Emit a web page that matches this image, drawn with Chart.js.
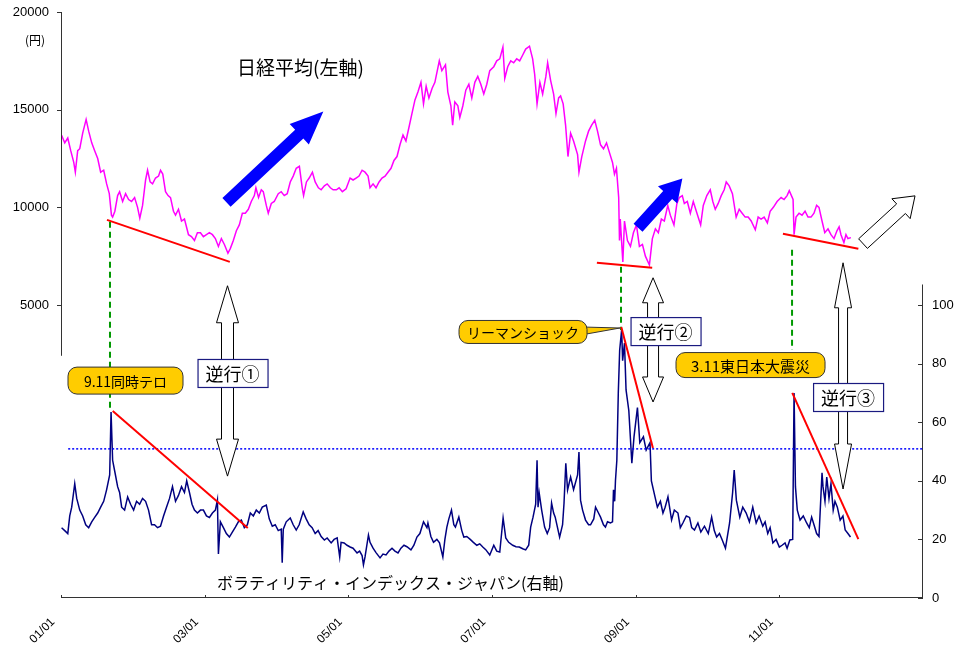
<!DOCTYPE html>
<html>
<head>
<meta charset="utf-8">
<script src="https://cdn.jsdelivr.net/npm/chart.js"></script>
<style>
  html, body { margin: 0; padding: 0; background: #fff; }
  canvas { display: block; }
</style>
</head>
<body>
<canvas id="chart" width="968" height="645"></canvas>
<script>
// 日経平均 (left axis, yen), roughly twice a month
const nikkeiDates = [
  '2001-01-04','2001-01-20','2001-02-05','2001-02-20','2001-03-05','2001-03-13','2001-03-25','2001-04-05','2001-04-20','2001-05-07','2001-05-20','2001-06-05','2001-06-20','2001-07-05','2001-07-20','2001-08-05','2001-08-20','2001-09-03','2001-09-14','2001-09-20','2001-10-01','2001-10-15','2001-10-25','2001-11-10','2001-11-25','2001-12-10','2001-12-25',
  '2002-01-10','2002-01-25','2002-02-06','2002-02-20','2002-03-05','2002-03-15','2002-03-28','2002-04-10','2002-04-25','2002-05-10','2002-05-20','2002-06-01','2002-06-15','2002-06-28','2002-07-10','2002-07-25','2002-08-05','2002-08-20','2002-09-05','2002-09-20','2002-10-10','2002-10-25','2002-11-10','2002-11-25','2002-12-10','2002-12-25',
  '2003-01-10','2003-01-25','2003-02-10','2003-02-25','2003-03-10','2003-03-25','2003-04-10','2003-04-28','2003-05-10','2003-05-25','2003-06-10','2003-06-25','2003-07-10','2003-07-25','2003-08-10','2003-08-25','2003-09-10','2003-09-18','2003-10-01','2003-10-15','2003-10-25','2003-11-10','2003-11-20','2003-12-05','2003-12-20',
  '2004-01-10','2004-01-25','2004-02-10','2004-02-25','2004-03-10','2004-03-25','2004-04-10','2004-04-26','2004-05-10','2004-05-17','2004-06-01','2004-06-15','2004-07-01','2004-07-15','2004-08-01','2004-08-15','2004-09-01','2004-09-15','2004-10-01','2004-10-15','2004-11-01','2004-11-15','2004-12-01','2004-12-20',
  '2005-01-10','2005-01-25','2005-02-10','2005-02-25','2005-03-10','2005-03-25','2005-04-10','2005-04-20','2005-05-05','2005-05-20','2005-06-05','2005-06-20','2005-07-05','2005-07-20','2005-08-05','2005-08-20','2005-09-05','2005-09-20','2005-10-05','2005-10-20','2005-11-05','2005-11-20','2005-12-05','2005-12-20',
  '2006-01-05','2006-01-18','2006-02-01','2006-02-15','2006-03-01','2006-03-15','2006-04-07','2006-04-20','2006-05-08','2006-05-20','2006-06-05','2006-06-14','2006-06-25','2006-07-10','2006-07-20','2006-08-05','2006-08-20','2006-09-05','2006-09-20','2006-10-05','2006-10-20','2006-11-05','2006-11-20','2006-12-05','2006-12-20',
  '2007-01-10','2007-01-25','2007-02-10','2007-02-26','2007-03-05','2007-03-20','2007-04-05','2007-04-20','2007-05-05','2007-05-20','2007-06-05','2007-06-20','2007-07-09','2007-07-25','2007-08-05','2007-08-17','2007-09-01','2007-09-15','2007-10-01','2007-10-10','2007-10-25','2007-11-10','2007-11-22','2007-12-05','2007-12-15','2007-12-28',
  '2008-01-10','2008-01-22','2008-02-05','2008-02-20','2008-03-10','2008-03-17','2008-04-01','2008-04-20','2008-05-05','2008-05-20','2008-06-06','2008-06-20','2008-07-05','2008-07-20','2008-08-05','2008-08-20','2008-09-05','2008-09-15','2008-09-25','2008-10-06','2008-10-10','2008-10-14','2008-10-27','2008-11-05','2008-11-20','2008-12-05','2008-12-20',
  '2009-01-05','2009-01-20','2009-02-05','2009-02-20','2009-03-10','2009-03-25','2009-04-10','2009-04-25','2009-05-10','2009-05-25','2009-06-12','2009-06-25','2009-07-13','2009-07-28','2009-08-10','2009-08-25','2009-09-05','2009-09-20','2009-10-05','2009-10-20','2009-11-05','2009-11-27','2009-12-10','2009-12-28',
  '2010-01-15','2010-01-28','2010-02-10','2010-02-25','2010-03-10','2010-03-25','2010-04-05','2010-04-20','2010-05-06','2010-05-25','2010-06-10','2010-06-25','2010-07-10','2010-07-25','2010-08-10','2010-08-31','2010-09-15','2010-09-30','2010-10-15','2010-11-01','2010-11-15','2010-12-01','2010-12-20',
  '2011-01-10','2011-01-25','2011-02-10','2011-02-21','2011-03-10','2011-03-15','2011-03-25','2011-04-10','2011-04-25','2011-05-10','2011-05-25','2011-06-10','2011-06-25','2011-07-08','2011-07-20','2011-08-05','2011-08-19','2011-09-05','2011-09-20','2011-10-05','2011-10-20','2011-10-31','2011-11-10','2011-11-25','2011-12-05','2011-12-15','2011-12-30'
];
const nikkeiValues = [
  13690,13300,13550,12900,12300,11800,12900,13000,13800,14500,13900,13300,12900,12500,11800,11900,11200,10700,9600,9500,9800,10600,10800,10300,10700,10400,10300,
  10500,10000,9450,10100,11400,11900,11300,11200,11500,11600,11900,11700,10800,10600,10500,9800,9600,9900,9300,9400,8600,8500,8300,8700,8700,8500,
  8600,8700,8600,8400,8000,8400,8100,7650,7900,8300,8800,9100,9700,9700,9900,10300,10600,11000,10500,10900,10800,10100,9700,10200,10300,
  10700,10800,10600,10700,11300,11600,12000,12100,11000,10600,11300,11500,11800,11300,11000,10900,11100,11200,11000,10900,10900,11000,10800,10950,
  11500,11400,11500,11600,11900,11800,11600,11000,11200,11000,11300,11500,11600,11800,12000,12400,12600,13200,13700,13400,14100,14800,15500,15900,
  16400,15300,16200,15600,16100,16400,17500,17000,17300,15900,15200,14200,15400,15200,14600,15200,16000,16300,15600,16400,16700,16300,15800,16300,17000,
  17200,17500,17600,18200,16600,17200,17500,17400,17600,17500,17800,18100,18250,17600,16800,15300,16400,15800,16700,17400,16500,15800,14800,15600,15700,15300,
  14200,12600,13800,13400,12700,11800,12600,13400,13900,14200,14450,13900,13200,13000,13300,12800,12300,11700,12000,10500,8300,9400,7200,9300,8300,8000,8700,
  9100,8000,8100,7500,7050,8400,8900,8700,9400,9300,10100,9600,9100,10200,10500,10600,10200,10300,9700,10300,9800,9100,10100,10600,
  10900,10300,9900,10200,10600,10900,11300,11100,10700,9500,9900,9700,9500,9500,9300,8850,9500,9400,9500,9200,9800,10000,10300,
  10500,10400,10600,10850,10400,8600,9500,9700,9600,9800,9500,9500,9700,10100,10000,9300,8700,8900,8600,8400,8800,9000,8600,8200,8600,8400,8450
];

// ボラティリティ・インデックス・ジャパン (right axis)
const vxjDates = [
  '2001-01-04','2001-01-20','2001-02-05','2001-02-15','2001-02-25','2001-03-10','2001-03-20','2001-04-05','2001-04-20','2001-05-05','2001-05-20','2001-06-05','2001-06-20','2001-07-05','2001-07-20','2001-08-05','2001-08-20','2001-09-05','2001-09-12','2001-09-20','2001-10-01','2001-10-15','2001-10-25','2001-11-05','2001-11-20','2001-12-05','2001-12-20',
  '2002-01-05','2002-01-20','2002-02-05','2002-02-20','2002-03-05','2002-03-20','2002-04-05','2002-04-20','2002-05-05','2002-05-20','2002-06-05','2002-06-20','2002-07-05','2002-07-20','2002-08-05','2002-08-20','2002-09-05','2002-09-20','2002-10-01','2002-10-15','2002-10-28','2002-11-10','2002-11-25','2002-12-10','2002-12-25',
  '2003-01-10','2003-01-25','2003-02-10','2003-02-25','2003-03-05','2003-03-10','2003-03-20','2003-04-05','2003-04-20','2003-05-05','2003-05-20','2003-06-05','2003-06-20','2003-07-05','2003-07-20','2003-08-05','2003-08-20','2003-09-05','2003-09-20','2003-10-05','2003-10-20','2003-11-10','2003-11-25','2003-12-10','2003-12-25',
  '2004-01-10','2004-01-25','2004-01-30','2004-02-05','2004-02-20','2004-03-10','2004-03-25','2004-04-10','2004-04-25','2004-05-15','2004-05-30','2004-06-15','2004-06-30','2004-07-15','2004-07-30','2004-08-15','2004-09-01','2004-09-15','2004-10-05','2004-10-20','2004-11-05','2004-11-18','2004-11-25','2004-12-10','2004-12-25',
  '2005-01-10','2005-01-25','2005-02-15','2005-02-28','2005-03-10','2005-03-17','2005-03-25','2005-04-12','2005-04-20','2005-05-05','2005-05-20','2005-06-10','2005-06-25','2005-07-10','2005-07-25','2005-08-10','2005-08-25','2005-09-10','2005-09-25','2005-10-10','2005-10-25','2005-11-15','2005-11-30','2005-12-15','2005-12-30',
  '2006-01-18','2006-02-05','2006-02-10','2006-02-25','2006-03-08','2006-03-25','2006-04-08','2006-04-25','2006-05-05','2006-05-15','2006-05-25','2006-06-08','2006-06-20','2006-06-28','2006-07-15','2006-07-30','2006-08-10','2006-08-25','2006-09-12','2006-09-28','2006-10-15','2006-10-30','2006-11-15','2006-11-30','2006-12-20',
  '2007-01-10','2007-01-25','2007-02-10','2007-02-27','2007-03-10','2007-03-25','2007-04-15','2007-05-01','2007-05-18','2007-06-05','2007-06-20','2007-07-05','2007-07-15','2007-07-27','2007-08-10','2007-08-17','2007-08-22','2007-08-28','2007-09-10','2007-09-25','2007-10-08','2007-10-20','2007-10-30','2007-11-10','2007-11-18','2007-12-10','2007-12-25',
  '2008-01-02','2008-01-11','2008-01-20','2008-02-05','2008-02-20','2008-03-10','2008-03-17','2008-03-25','2008-04-05','2008-04-20','2008-05-05','2008-05-15','2008-06-01','2008-06-10','2008-06-25','2008-07-05','2008-07-20','2008-07-30','2008-08-10','2008-08-25','2008-09-05','2008-09-10','2008-09-16','2008-09-20','2008-09-27','2008-10-04','2008-10-11','2008-10-21','2008-10-26','2008-11-05','2008-11-13','2008-11-27','2008-12-12','2008-12-23',
  '2009-01-10','2009-01-22','2009-02-10','2009-02-24','2009-03-13','2009-03-20','2009-04-08','2009-04-20','2009-05-05','2009-05-18','2009-05-29','2009-06-13','2009-07-01','2009-07-15','2009-08-03','2009-08-15','2009-08-28','2009-09-15','2009-10-01','2009-10-12','2009-10-26','2009-11-13','2009-11-28','2009-12-16',
  '2010-01-05','2010-01-22','2010-02-05','2010-02-17','2010-03-01','2010-03-15','2010-04-01','2010-04-22','2010-05-07','2010-05-15','2010-05-26','2010-06-13','2010-06-28','2010-07-15','2010-08-01','2010-08-18','2010-09-05','2010-09-20','2010-10-08','2010-10-20','2010-11-03','2010-11-15','2010-11-29','2010-12-15',
  '2011-01-01','2011-01-15','2011-01-30','2011-02-10','2011-02-24','2011-03-08','2011-03-15','2011-03-22','2011-04-01','2011-04-15','2011-05-01','2011-05-18','2011-06-01','2011-06-13','2011-06-25','2011-07-08','2011-07-20','2011-08-05','2011-08-10','2011-08-20','2011-08-29','2011-09-10','2011-09-20','2011-10-01','2011-10-10','2011-10-22','2011-11-06','2011-11-20','2011-12-01','2011-12-15','2011-12-28'
];
const vxjValues = [
  24,23,22,28,31,39,34,30,28,25,24,26,27.5,29,31,33,37,42,63.5,47,43,38,36,31,30,34.5,32,
  30,33,32,34,33,30,25,25,24,24.5,28,31,34,38,33,35,38,36,40,36,32,30,29,30,30,
  28,27.5,29,30,33.5,15,26,24,22,20.8,22.5,24.2,26,26.6,24,25,29,28,30,29,31,31.7,27,24.5,25,
  23,23.5,12,23.5,26,27.3,25,23.2,25,29.4,27,25,24,22,23,21,19.8,20.5,18.8,20,20.5,14,19,18.8,18,
  17.4,17,15.4,16,14.5,11.3,14,21.5,19,17,15.5,13.7,15,14.7,16,17,16,15.4,17,18,17.5,16.4,18,20.8,22,
  26,24,25.6,21,19,20,18.8,14,20,24.2,27,30,25,24.2,27.6,23,20.8,21,20,19,18,18.5,17.4,16.5,14.7,
  18,16,15.7,27.3,20.5,19,18,17.5,17.4,16.8,16.4,18,24.2,27.6,32,47,31,35.8,30,24.2,22,24,32.4,29,27.6,20.8,25,
  32.4,46,36.9,41.3,37,42,49.8,33.4,30,26.6,25,25,27,31,29,27.6,25,24.2,26,25.6,26,36.9,33,40,47,70,84.6,91.5,81,87,71,64,46,55,
  65,53,55,50.5,53,40,34.5,31,33,29,31,34.5,26.6,30,29,24,25.6,28,27.5,24,23.2,25.6,22.5,24.5,
  22,27.6,23,20.8,22,19.8,17,25.6,36,43.7,33.4,27.6,31,29,26,31,25.6,28,24.5,26,22,24,18.8,20,
  17.4,18,18.8,17,19.8,20,70,38,30,26.6,28,25.6,24,27.6,25,22,21,42.7,38,33,41.3,34,39,30,33,31,26.6,28,23.2,22,20.8
];

const xTickYears = [2001, 2003, 2005, 2007, 2009, 2011];
const xTickLabels = ['01/01', '03/01', '05/01', '07/01', '09/01', '11/01'];
const leftTicks = [5000, 10000, 15000, 20000];
const rightTicks = [0, 20, 40, 60, 80, 100];

function toYear(s) {
  const [y, m, d] = s.split('-').map(Number);
  return y + (m - 1) / 12 + (d - 1) / 365;
}

// overlay drawings, in data units (x = year, y = yen on left axis, v = right axis)
const trendLines = [
  { axis: 'y', x1: 2001.64, y1: 9360, x2: 2003.35, y2: 7210 },
  { axis: 'y', x1: 2008.46, y1: 7160, x2: 2009.23, y2: 6905 },
  { axis: 'y', x1: 2011.05, y1: 8645, x2: 2012.10, y2: 7880 },
  { axis: 'y2', x1: 2001.72, y1: 63.8, x2: 2003.60, y2: 23.9 },
  { axis: 'y2', x1: 2008.80, y1: 92.5, x2: 2009.24, y2: 51.2 },
  { axis: 'y2', x1: 2011.18, y1: 70, x2: 2012.10, y2: 20.1 }
];
const eventLines = [
  { x: 2001.682, yen: 9258, v: 64.2 },
  { x: 2008.796, yen: 6956, v: 91.5 },
  { x: 2011.177, yen: 7826, v: 84.6 }
];
const vxjRefLevel = { v: 50.9, from: 2001.10, to: 2012.99 };
const trendArrows = [
  { x1: 2003.304, y1: 10256, x2: 2004.652, y2: 14900, shaft: 12, headW: 28, headL: 33, fill: '#0000ff', stroke: null },
  { x1: 2009.033, y1: 8951, x2: 2009.650, y2: 11473, shaft: 12, headW: 26, headL: 22, fill: '#0000ff', stroke: null },
  { x1: 2012.165, y1: 8143, x2: 2012.889, y2: 10588, shaft: 13, headW: 27, headL: 19, fill: '#ffffff', stroke: '#000' }
];
const doubleArrows = [
  { x: 2003.318, top: 5985, bottom: 41.6, shaft: 12, headW: 22, headL: 37 },
  { x: 2009.242, top: 6394, bottom: 66.9, shaft: 11, headW: 21, headL: 25 },
  { x: 2011.887, top: 7161, bottom: 37.2, shaft: 9, headW: 17, headL: 45 }
];
const gyakkouBoxes = [
  { text: '逆行①', x: 2003.388, v: 76.8 },
  { text: '逆行②', x: 2009.416, v: 91.1 },
  { text: '逆行③', x: 2011.957, v: 68.6 }
];
const eventCallouts = [
  { text: '9.11同時テロ', x: 2001.898, v: 74.2, w: 115, h: 27, size: 14 },
  { text: 'リーマンショック', x: 2007.432, v: 90.8, w: 128, h: 23, size: 14, tipX: 2008.782, tipV: 92.15 },
  { text: '3.11東日本大震災', x: 2010.599, v: 79.5, w: 149, h: 25, size: 15 }
];

const JP = '"Noto Sans CJK JP", "Noto Sans", sans-serif';
const LAT = '"Liberation Sans", Arial, sans-serif';

function arrowPath(ctx, x1, y1, x2, y2, shaft, headW, headL) {
  const dx = x2 - x1, dy = y2 - y1, len = Math.hypot(dx, dy);
  const ux = dx / len, uy = dy / len, nx = -uy, ny = ux;
  const bx = x2 - ux * headL, by = y2 - uy * headL;
  const s = shaft / 2, h = headW / 2;
  ctx.beginPath();
  ctx.moveTo(x1 + nx * s, y1 + ny * s);
  ctx.lineTo(bx + nx * s, by + ny * s);
  ctx.lineTo(bx + nx * h, by + ny * h);
  ctx.lineTo(x2, y2);
  ctx.lineTo(bx - nx * h, by - ny * h);
  ctx.lineTo(bx - nx * s, by - ny * s);
  ctx.lineTo(x1 - nx * s, y1 - ny * s);
  ctx.closePath();
}

// the vertical axes should not push the plot area down for their labels
function fitVertical(width) {
  return s => {
    s.width = width;
    s.paddingTop = 0;
    s.paddingBottom = 0;
    if (s._margins) { s._margins.top = 0; s._margins.bottom = 0; }
  };
}

const overlay = {
  id: 'overlay',
  afterDraw(chart) {
    const { ctx, chartArea } = chart;
    const sx = chart.scales.x, sl = chart.scales.y, sr = chart.scales.y2;
    const px = v => sx.getPixelForValue(v);
    const pl = v => sl.getPixelForValue(v);
    const pr = v => sr.getPixelForValue(v);
    ctx.save();

    // axis lines (partial, like the original)
    ctx.strokeStyle = '#333';
    ctx.lineWidth = 1;
    ctx.beginPath();
    ctx.moveTo(chartArea.left + 0.5, pl(20000));
    ctx.lineTo(chartArea.left + 0.5, pl(2400));
    ctx.moveTo(chartArea.right - 0.5, pr(0));
    ctx.lineTo(chartArea.right - 0.5, pr(107));
    ctx.moveTo(chartArea.left, chartArea.bottom - 0.5);
    ctx.lineTo(chartArea.right, chartArea.bottom - 0.5);
    leftTicks.forEach(t => { const y = Math.round(pl(t)) + 0.5; ctx.moveTo(chartArea.left - 4, y); ctx.lineTo(chartArea.left, y); });
    rightTicks.forEach(t => { const y = Math.round(pr(t)) + 0.5; ctx.moveTo(chartArea.right - 5, y); ctx.lineTo(chartArea.right, y); });
    xTickYears.forEach(t => { const x = Math.round(px(t)) + 0.5; ctx.moveTo(x, chartArea.bottom - 3); ctx.lineTo(x, chartArea.bottom); });
    ctx.stroke();

    // dotted reference level on the VXJ
    ctx.strokeStyle = '#0000ff';
    ctx.lineWidth = 1.5;
    ctx.setLineDash([2, 2]);
    ctx.beginPath();
    ctx.moveTo(px(vxjRefLevel.from), pr(vxjRefLevel.v));
    ctx.lineTo(px(vxjRefLevel.to), pr(vxjRefLevel.v));
    ctx.stroke();

    // green dashed event lines
    ctx.strokeStyle = '#009900';
    ctx.lineWidth = 2;
    ctx.setLineDash([6, 4]);
    eventLines.forEach(e => {
      ctx.beginPath();
      ctx.moveTo(px(e.x), pl(e.yen));
      ctx.lineTo(px(e.x), pr(e.v));
      ctx.stroke();
    });
    ctx.setLineDash([]);

    // red trend lines
    ctx.strokeStyle = '#ff0000';
    ctx.lineWidth = 2;
    trendLines.forEach(l => {
      const py = l.axis === 'y' ? pl : pr;
      ctx.beginPath();
      ctx.moveTo(px(l.x1), py(l.y1));
      ctx.lineTo(px(l.x2), py(l.y2));
      ctx.stroke();
    });

    // direction arrows
    trendArrows.forEach(a => {
      arrowPath(ctx, px(a.x1), pl(a.y1), px(a.x2), pl(a.y2), a.shaft, a.headW, a.headL);
      ctx.fillStyle = a.fill;
      ctx.fill();
      if (a.stroke) { ctx.strokeStyle = a.stroke; ctx.lineWidth = 1; ctx.stroke(); }
    });

    // double headed vertical arrows
    doubleArrows.forEach(a => {
      const x = px(a.x), yt = pl(a.top), yb = pr(a.bottom);
      const s = a.shaft / 2, h = a.headW / 2;
      ctx.beginPath();
      ctx.moveTo(x, yt);
      ctx.lineTo(x + h, yt + a.headL);
      ctx.lineTo(x + s, yt + a.headL);
      ctx.lineTo(x + s, yb - a.headL);
      ctx.lineTo(x + h, yb - a.headL);
      ctx.lineTo(x, yb);
      ctx.lineTo(x - h, yb - a.headL);
      ctx.lineTo(x - s, yb - a.headL);
      ctx.lineTo(x - s, yt + a.headL);
      ctx.lineTo(x - h, yt + a.headL);
      ctx.closePath();
      ctx.fillStyle = '#fff';
      ctx.fill();
      ctx.strokeStyle = '#000';
      ctx.lineWidth = 1;
      ctx.stroke();
    });

    // 逆行 boxes
    ctx.font = '18px ' + JP;
    ctx.textAlign = 'center';
    ctx.textBaseline = 'middle';
    gyakkouBoxes.forEach(b => {
      const x = px(b.x), y = pr(b.v);
      const w = ctx.measureText(b.text).width + 16, h = 28;
      ctx.fillStyle = '#fff';
      ctx.fillRect(x - w / 2, y - h / 2, w, h);
      ctx.strokeStyle = '#1a1a80';
      ctx.lineWidth = 1.2;
      ctx.strokeRect(x - w / 2 + 0.5, y - h / 2 + 0.5, w, h);
      ctx.fillStyle = '#000';
      ctx.fillText(b.text, x, y + 1);
    });

    // event callouts
    eventCallouts.forEach(c => {
      const x = px(c.x), y = pr(c.v);
      const l = x - c.w / 2, t = y - c.h / 2;
      ctx.fillStyle = '#ffcc00';
      ctx.strokeStyle = '#333';
      ctx.lineWidth = 1;
      if (c.tipX !== undefined) {
        ctx.beginPath();
        ctx.moveTo(l + c.w - 6, y - 5);
        ctx.lineTo(px(c.tipX), pr(c.tipV));
        ctx.lineTo(l + c.w - 6, y + 3);
        ctx.closePath();
        ctx.fill();
        ctx.stroke();
      }
      ctx.beginPath();
      ctx.roundRect(l, t, c.w, c.h, 9);
      ctx.fill();
      ctx.stroke();
      ctx.fillStyle = '#000';
      ctx.font = c.size + 'px ' + JP;
      ctx.fillText(c.text, x, y + 1);
    });

    // series titles and unit
    ctx.fillStyle = '#000';
    ctx.textAlign = 'left';
    ctx.font = '19px ' + JP;
    ctx.fillText('日経平均(左軸)', px(2003.45), pl(17135));
    ctx.font = '16px ' + JP;
    ctx.fillText('ボラティリティ・インデックス・ジャパン(右軸)', px(2003.172), pr(5.1));
    ctx.textAlign = 'center';
    ctx.font = '12px ' + JP;
    ctx.fillText('(円)', px(2000.638), pl(18567));

    ctx.restore();
  }
};

new Chart(document.getElementById('chart'), {
  type: 'line',
  data: {
    datasets: [
      {
        label: '日経平均',
        data: nikkeiDates.map((d, i) => ({ x: toYear(d), y: nikkeiValues[i] })),
        yAxisID: 'y',
        borderColor: '#ff00ff',
        borderWidth: 1.5,
        pointRadius: 0,
        tension: 0
      },
      {
        label: 'ボラティリティ・インデックス・ジャパン',
        data: vxjDates.map((d, i) => ({ x: toYear(d), y: vxjValues[i] })),
        yAxisID: 'y2',
        borderColor: '#000080',
        borderWidth: 1.5,
        pointRadius: 0,
        tension: 0
      }
    ]
  },
  options: {
    responsive: false,
    animation: false,
    layout: { padding: { top: 12, left: 0, right: 0, bottom: 0 }, autoPadding: false },
    plugins: { legend: { display: false }, tooltip: { enabled: false } },
    scales: {
      x: {
        type: 'linear',
        min: 2001,
        max: 2013,
        grid: { display: false, drawTicks: false },
        border: { display: false },
        afterBuildTicks: s => { s.ticks = xTickYears.map(v => ({ value: v })); },
        afterFit: s => { s.height = 47; },
        ticks: {
          autoSkip: false,
          minRotation: 45,
          maxRotation: 45,
          padding: 17,
          labelOffset: -8,
          color: '#000',
          font: { family: LAT, size: 12 },
          callback: v => xTickLabels[xTickYears.indexOf(v)] || ''
        }
      },
      y: {
        position: 'left',
        min: -10000,
        max: 20000,
        grid: { display: false, drawTicks: false },
        border: { display: false },
        afterBuildTicks: s => { s.ticks = leftTicks.map(v => ({ value: v })); },
        afterFit: fitVertical(61),
        ticks: { padding: 12, color: '#000', font: { family: LAT, size: 13 }, callback: v => String(v) }
      },
      y2: {
        position: 'right',
        min: 0,
        max: 200,
        grid: { display: false, drawTicks: false },
        border: { display: false },
        afterBuildTicks: s => { s.ticks = rightTicks.map(v => ({ value: v })); },
        afterFit: fitVertical(45),
        ticks: { padding: 9, color: '#000', font: { family: LAT, size: 13 }, callback: v => String(v) }
      }
    }
  },
  plugins: [overlay]
});
</script>
</body>
</html>
